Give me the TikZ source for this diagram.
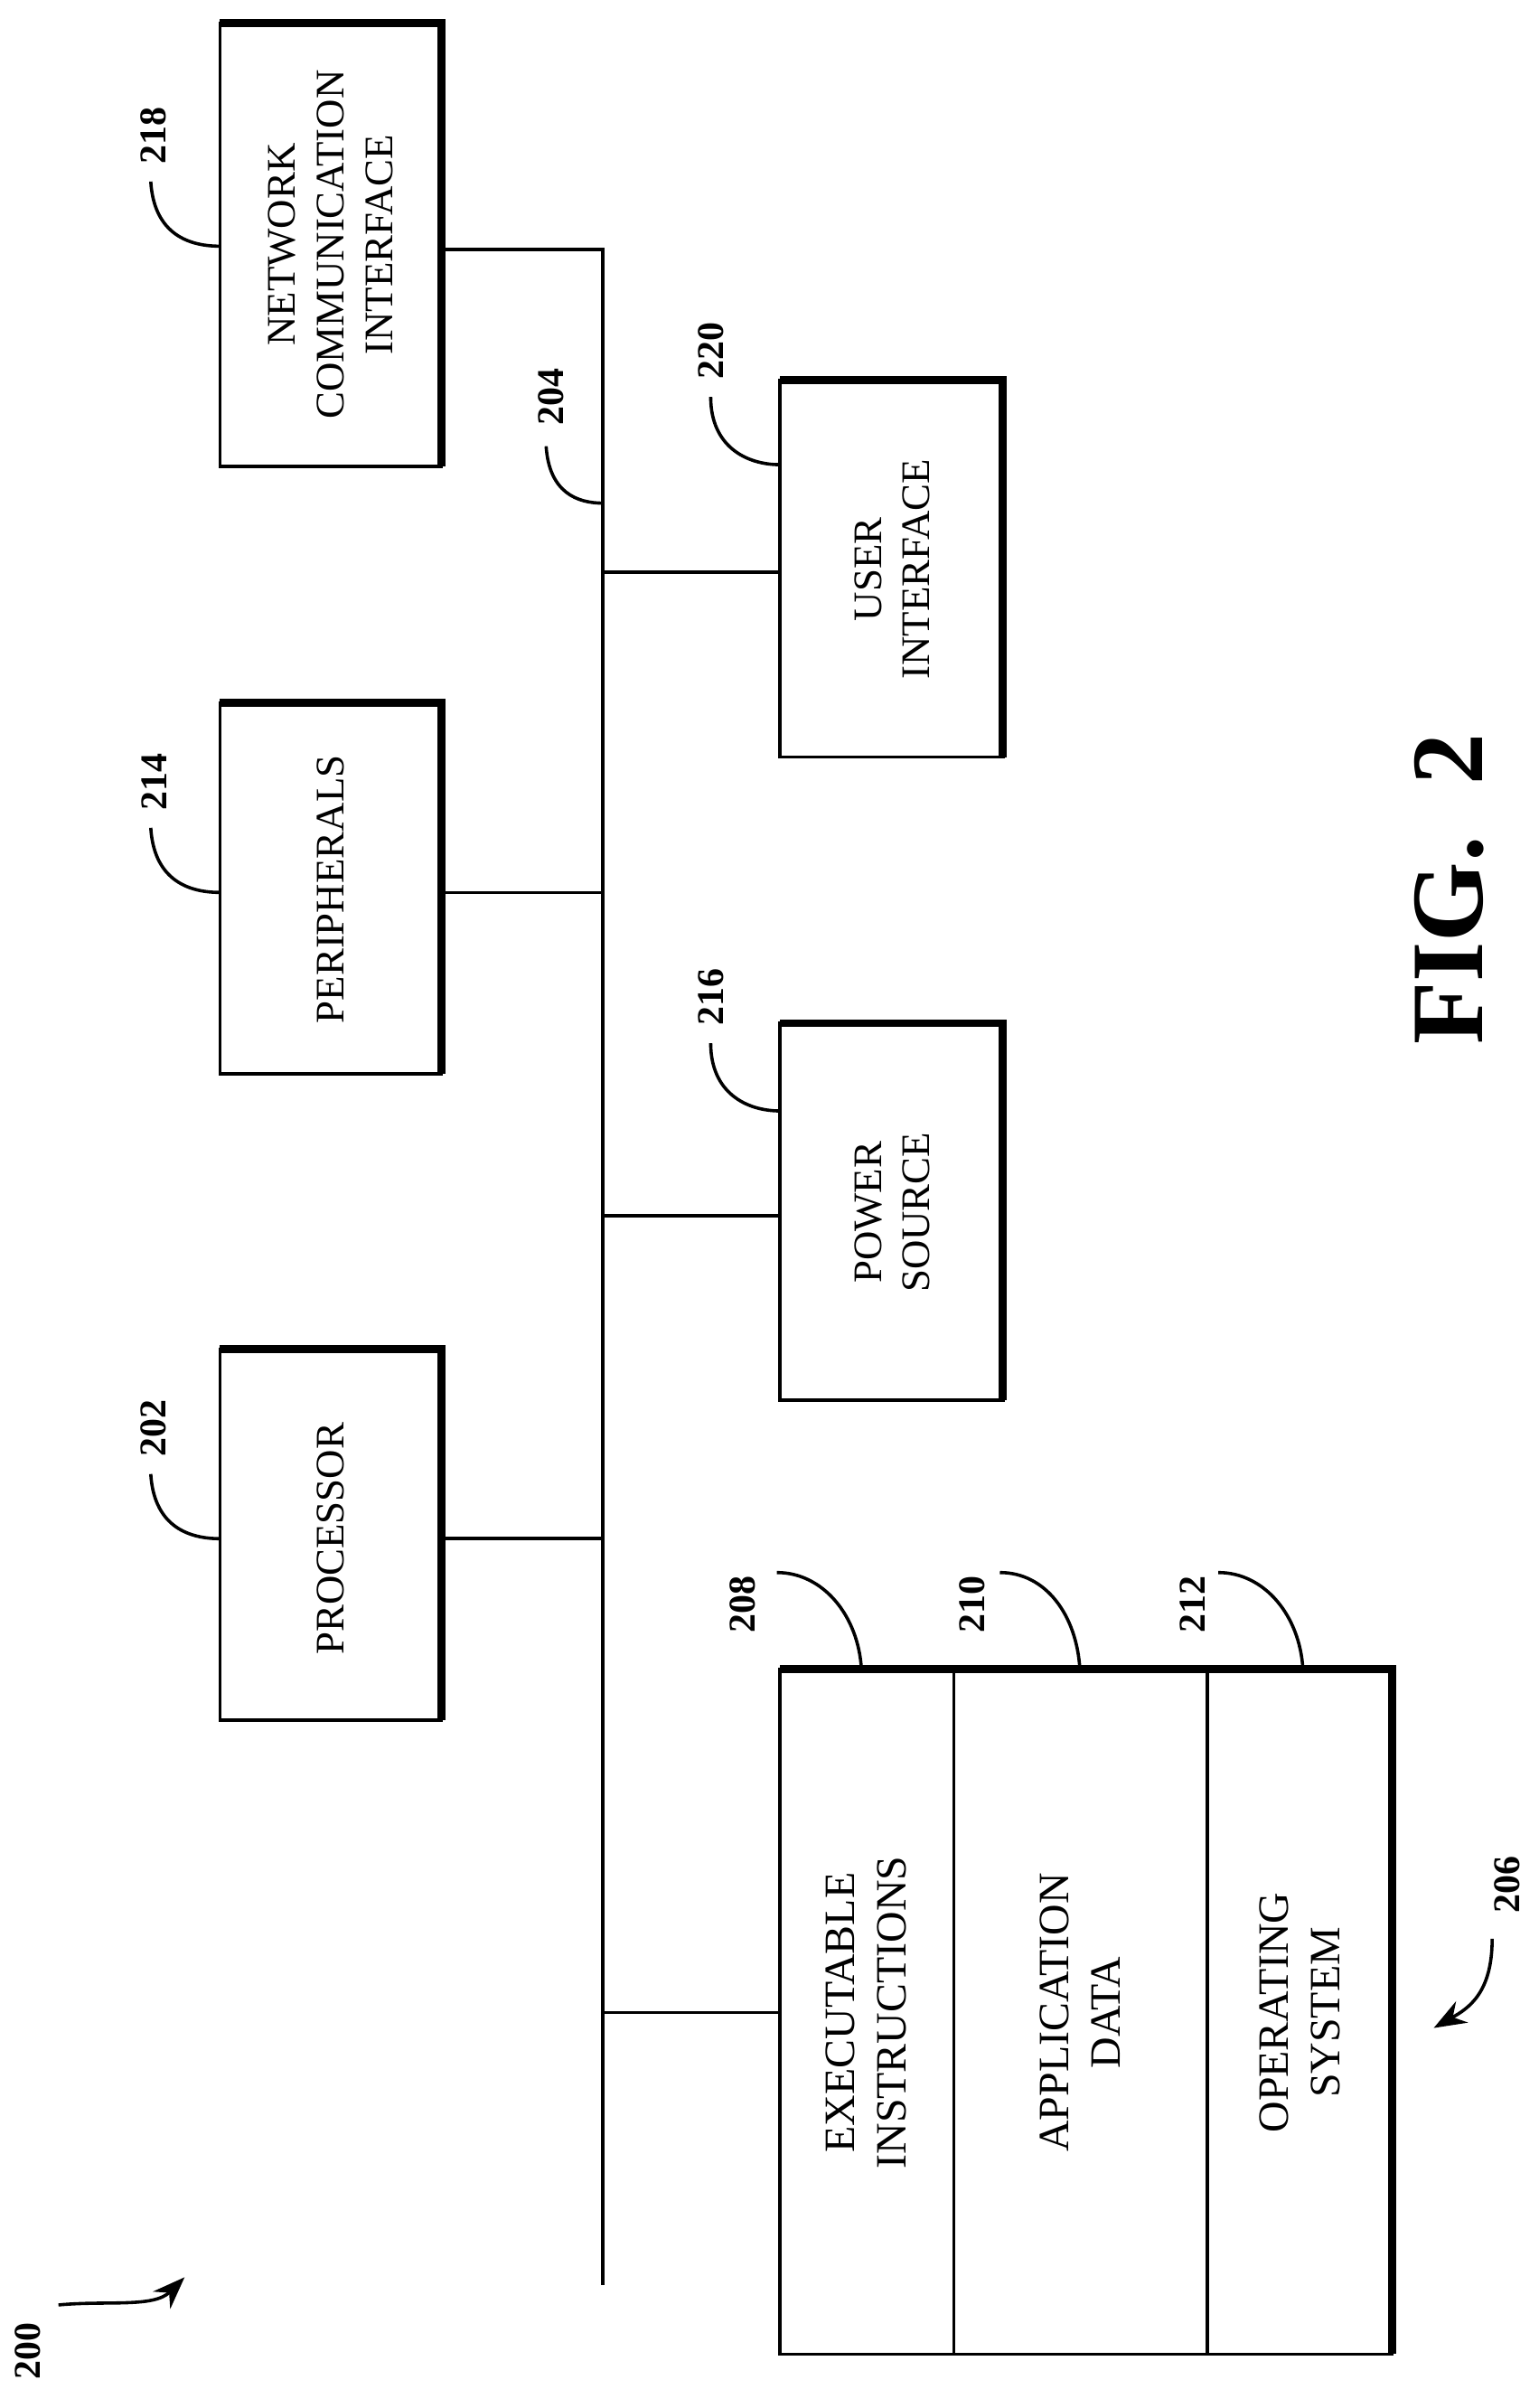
\documentclass[tikz,border=0pt]{standalone}
\usepackage{fontspec}
\setmainfont{Liberation Serif}
\usetikzlibrary{arrows.meta}
\begin{document}
\begin{tikzpicture}[x=0.02cm,y=-0.02cm,
 box/.style={draw,line width=1.2pt},
 sh/.style={line width=3pt},
 ln/.style={line width=1.2pt},
 lbl/.style={font=\fontsize{14}{16}\selectfont\bfseries,rotate=90},
 txt/.style={font=\fontsize{15}{18}\selectfont,rotate=90,align=center}]
\useasboundingbox (0,0) rectangle (1000,1565);
\newcommand\blk[5]{% name x1 y1 x2 y2
 \draw[box] (#2,#3) rectangle (#4,#5);
 \draw[sh] (#2,#3) -- (#4,#3) -- (#4,#5);
 \node (#1) at ({(#2+#4)/2},{(#3+#5)/2}) {};}
\blk{net}{143}{15}{287}{303}
\blk{ui}{507}{247}{652}{492}
\blk{per}{143}{457}{287}{698}
\blk{pow}{507}{665}{652}{910}
\blk{proc}{143}{877}{287}{1118}
\blk{mem}{507}{1085}{905}{1530}
\draw[ln] (620,1085) -- (620,1530);
\draw[ln] (785,1085) -- (785,1530);
\node[txt] at (215,159) {NETWORK\\COMMUNICATION\\INTERFACE};
\node[txt] at (580,370) {USER\\INTERFACE};
\node[txt] at (215,578) {PERIPHERALS};
\node[txt] at (580,788) {POWER\\SOURCE};
\node[txt] at (215,1000) {PROCESSOR};
\node[txt,font=\fontsize{16}{19}\selectfont] at (563,1308) {EXECUTABLE\\INSTRUCTIONS};
\node[txt,font=\fontsize{16}{19}\selectfont] at (702,1308) {APPLICATION\\DATA};
\node[txt,font=\fontsize{16}{19}\selectfont] at (845,1308) {OPERATING\\SYSTEM};
% bus
\coordinate (btop) at (392,162); \coordinate (bbot) at (392,1485);
\draw[ln] (287,162) -- (btop) -- (bbot);
\draw[ln] (392,372) -- (507,372);
\draw[ln] (287,580) -- (392,580);
\draw[ln] (392,790) -- (507,790);
\draw[ln] (287,1000) -- (392,1000);
\draw[ln] (392,1308) -- (507,1308);
% labels
\node[lbl] at (100,88) {218}; \draw[ln] (98,118) .. controls (100,150) and (120,160) .. (143,160);
\node[lbl] at (358,258) {204}; \draw[ln] (355,290) .. controls (357,320) and (375,327) .. (392,327);
\node[lbl] at (462,228) {220}; \draw[ln] (462,258) .. controls (462,290) and (485,302) .. (507,302);
\node[lbl] at (100,508) {214}; \draw[ln] (98,538) .. controls (100,570) and (120,580) .. (143,580);
\node[lbl] at (462,648) {216}; \draw[ln] (462,678) .. controls (462,710) and (485,722) .. (507,722);
\node[lbl] at (100,928) {202}; \draw[ln] (98,958) .. controls (100,990) and (120,1000) .. (143,1000);
\node[lbl] at (483,1043) {208}; \draw[ln] (505,1022) .. controls (535,1022) and (558,1050) .. (560,1085);
\node[lbl] at (632,1043) {210}; \draw[ln] (650,1022) .. controls (680,1022) and (700,1050) .. (702,1085);
\node[lbl] at (775,1043) {212}; \draw[ln] (792,1022) .. controls (822,1022) and (845,1050) .. (847,1085);
\node[lbl] at (980,1225) {206}; \draw[ln,-{Stealth[length=12pt]}] (970,1260) .. controls (970,1295) and (955,1305) .. (932,1318);
\node[lbl] at (18,1528) {200}; \draw[ln,-{Stealth[length=12pt]}] (38,1498) .. controls (70,1495) and (100,1500) .. (120,1480);
\node[rotate=90,font=\fontsize{38}{44}\selectfont\bfseries] at (942,578) {FIG.~~2};
\end{tikzpicture}
\end{document}
